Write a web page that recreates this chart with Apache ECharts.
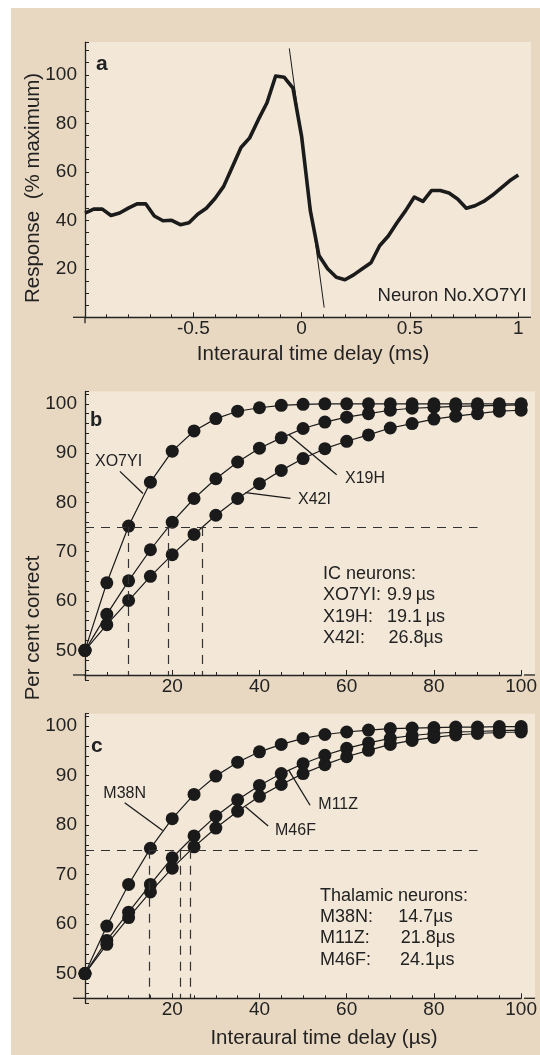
<!DOCTYPE html>
<html><head><meta charset="utf-8">
<script src="https://cdn.jsdelivr.net/npm/echarts@6/dist/echarts.min.js"></script>
<style>html,body{margin:0;padding:0;background:#fff}#c{width:540px;height:1055px}</style>
</head><body><div id="c"></div>
<script>
// ---------- data ----------
const delayMs = [-1.00,-0.96,-0.92,-0.88,-0.84,-0.80,-0.76,-0.72,-0.68,-0.64,-0.60,-0.56,-0.52,-0.48,-0.44,-0.40,-0.36,-0.32,-0.28,-0.24,-0.20,-0.16,-0.12,-0.08,-0.04,0.00,0.04,0.08,0.12,0.16,0.20,0.24,0.28,0.32,0.36,0.40,0.44,0.48,0.52,0.56,0.60,0.64,0.68,0.72,0.76,0.80,0.84,0.88,0.92,0.96,1.00];
const responsePct = [43,44.6,44.6,42,43,45,46.8,46.8,41.8,39.8,40,38.2,39,42.5,45,49,54,62,70,74,81.5,88.5,99.5,99,94.5,74.5,44,25.5,20,16.5,15.5,17.5,20,22.5,29.5,33.5,39,44,49.6,47.8,52.3,52.3,51.3,48.8,45,46,47.8,50.3,53.3,56.3,58.7];
const tangentX = [-0.057, 0.104];
const tangentY = [110.9, 4.0];

const delayUs = [0,5,10,15,20,25,30,35,40,45,50,55,60,65,70,75,80,85,90,95,100];
const pcXO7YI = [50,63.7,75.2,84.1,90.4,94.5,97,98.5,99.2,99.7,99.9,100,100,100,100,100,100,100,100,100,100];
const pcX19H  = [50,57.3,64.1,70.4,76,80.8,84.8,88.2,91,93.1,95,96.3,97.3,98,98.7,99.1,99.3,99.5,99.6,99.7,99.8];
const pcX42I  = [50,55.2,60.1,65,69.4,73.5,77.4,80.8,83.8,86.5,88.9,90.9,92.4,93.7,95.1,96,96.9,97.5,98,98.5,98.7];
const pcM38N  = [50,59.6,68,75.3,81.3,86.2,89.9,92.7,94.8,96.3,97.5,98.3,98.8,99.2,99.5,99.6,99.7,99.8,99.8,99.9,99.9];
const pcM11Z  = [50,56.7,62.4,68,73.4,77.8,81.8,85.1,88,90.4,92.4,94.1,95.5,96.6,97.5,98.1,98.5,98.8,98.9,99.1,99.2];
const pcM46F  = [50,55.9,61.3,66.5,71.3,75.6,79.4,82.8,85.8,88.2,90.4,92.2,93.8,95.1,96.3,97.1,97.7,98.2,98.5,98.7,98.8];

const criterion = 75;
const criterionEnd = 90;
const icThresholds = [9.9, 19.1, 26.8];
const thalThresholds = [14.7, 21.8, 24.1];

const icNames = ['XO7YI:', 'X19H:', 'X42I:'];
const icValues = ['9.9\u2009µs', '19.1\u2009µs', '26.8µs'];
const thNames = ['M38N:', 'M11Z:', 'M46F:'];
const thValues = ['14.7µs', '21.8µs', '24.1µs'];

// pointer (callout) lines in data coordinates
const ptrIC = [[[8.0,86.3],[13.3,81.8]], [[46.7,93.8],[57.7,85.6]], [[36.8,82.0],[47.1,80.8]]];
const ptrTh = [[[9.1,84.5],[17.8,78.9]], [[46.7,91.1],[51.6,84.0]], [[36.8,83.7],[42.0,79.8]]];

// ---------- layout ----------
const FONT = '"Liberation Sans", Arial, Helvetica, sans-serif';
const INK = '#222';
const DOT = '#1a1a1a';
const OUTER = '#e8d8c1';
const INNER = '#f3e8d8';

const gA = {left:85, top:42.1, width:433.3, height:275.2};
const gB = {left:85, top:391.5, width:439, height:288.4};
const gC = {left:85, top:713.7, width:439, height:289.55};
const bcMin = 44, bcMax = 102.5;
const unitB = gB.height/(bcMax-bcMin), unitC = gC.height/(bcMax-bcMin);
const axisYA = gA.top + gA.height;
const axisYB = gB.top + gB.height - unitB;
const axisYC = gC.top + gC.height - unitC;

function xAxisBase(grid, extra){
  return Object.assign({
    type:'value', gridIndex:grid,
    axisLine:{show:true, onZero:false, lineStyle:{color:INK, width:1.3}},
    axisTick:{show:true, inside:true, length:5, lineStyle:{color:INK, width:1}},
    minorTick:{show:true, length:3, lineStyle:{color:INK, width:1}},
    splitLine:{show:false}, minorSplitLine:{show:false},
    axisLabel:{color:INK, fontSize:19, fontFamily:FONT, margin:2, showMinLabel:false}
  }, extra);
}
function yAxisBase(grid, extra, fmt){
  return Object.assign({
    type:'value', gridIndex:grid,
    axisLine:{show:true, onZero:false, lineStyle:{color:INK, width:1.3}},
    axisTick:{show:true, inside:true, length:4, lineStyle:{color:INK, width:1}},
    splitLine:{show:false},
    axisLabel:{color:INK, fontSize:19, fontFamily:FONT, margin:8, formatter:fmt, showMinLabel:true, showMaxLabel:true}
  }, extra);
}

function pairs(xs, ys){ return xs.map((x,i)=>[x, ys[i]]); }
function dotSeries(name, ys, gi){
  return {
    name, type:'line', xAxisIndex:gi, yAxisIndex:gi, data:pairs(delayUs, ys),
    symbol:'circle', symbolSize:13, showSymbol:true,
    itemStyle:{color:DOT}, lineStyle:{color:DOT, width:1.2}, z:3
  };
}
function dashLines(th){
  const d = [[{coord:[0,criterion]},{coord:[criterionEnd,criterion]}]];
  th.forEach(t => d.push([{coord:[t,criterion]},{coord:[t,45]}]));
  return {silent:true, symbol:['none','none'], label:{show:false}, animation:false,
    lineStyle:{color:'#333', width:1.2, type:[9,7]}, emphasis:{disabled:true}, data:d};
}
function ptrLines(p){
  return {silent:true, symbol:['none','none'], label:{show:false}, animation:false,
    lineStyle:{color:DOT, width:1.3, type:'solid'}, emphasis:{disabled:true},
    data:p.map(s=>[{coord:s[0]},{coord:s[1]}])};
}

function txt(x, y, text, o){
  o = o || {};
  return {type:'text', x, y, z:100, rotation:o.rot||0, silent:true,
    style:{text, fill:INK, fontSize:o.size||16, fontFamily:FONT, fontWeight:o.weight||'normal',
      textAlign:o.align||'left', textVerticalAlign:'middle'}};
}
function ln(x1,y1,x2,y2){
  return {type:'line', z:50, silent:true, shape:{x1,y1,x2,y2}, style:{stroke:INK, lineWidth:1.3}};
}
function rect(x,y,w,h,c){
  return {type:'rect', z:-100, silent:true, shape:{x,y,width:w,height:h}, style:{fill:c}};
}

const graphics = [
  rect(11, 8, 529, 1047, OUTER),
  rect(85, gA.top, 531-85, gA.height, INNER),
  rect(85, gB.top, 535-85, axisYB-gB.top, INNER),
  rect(85, gC.top, 535-85, axisYC-gC.top, INNER),
  // axis line extensions
  ln(73, axisYA, 85, axisYA), ln(gA.left+gA.width, axisYA, 531, axisYA), ln(85, axisYA, 85, axisYA+6),
  ln(73, axisYB, 85, axisYB), ln(gB.left+gB.width, axisYB, 535, axisYB),
  ln(73, axisYC, 85, axisYC), ln(gC.left+gC.width, axisYC, 535, axisYC),
  // panel letters
  txt(96, 64, 'a', {size:21, weight:'bold'}),
  txt(90, 420, 'b', {size:20, weight:'bold'}),
  txt(91, 746, 'c', {size:21, weight:'bold'}),
  // panel a text
  txt(526.7, 296, 'Neuron No.XO7YI', {size:18.5, align:'right'}),
  txt(313, 354, 'Interaural time delay (ms)', {size:20.5, align:'center'}),
  txt(33.5, 188, 'Response  (% maximum)', {size:20.5, align:'center', rot:Math.PI/2}),
  txt(33, 628, 'Per cent correct', {size:20.5, align:'center', rot:Math.PI/2}),
  txt(324, 1038.5, 'Interaural time delay (µs)', {size:20.5, align:'center'}),
  // panel b callouts
  txt(95, 461.7, 'XO7YI', {size:16}),
  txt(345, 479, 'X19H', {size:16}),
  txt(298, 500, 'X42I', {size:16}),
  txt(323, 574, 'IC neurons:', {size:18}),
  // panel c callouts
  txt(103.3, 793.3, 'M38N', {size:16}),
  txt(318.3, 805, 'M11Z', {size:16}),
  txt(275, 831, 'M46F', {size:16}),
  txt(320, 895.7, 'Thalamic neurons:', {size:18})
];
const icValX = [387, 387, 388.5];
icNames.forEach((n,i)=>{ graphics.push(txt(323, 595+i*21.6, n, {size:18})); graphics.push(txt(icValX[i], 595+i*21.6, icValues[i], {size:18})); });
const thValX = [398.3, 400.7, 400];
thNames.forEach((n,i)=>{ graphics.push(txt(320, 916.7+i*21.6, n, {size:18})); graphics.push(txt(thValX[i], 916.7+i*21.6, thValues[i], {size:18})); });

const fmtA = v => (v % 20 === 0 && v > 0 && v <= 100) ? String(v) : '';
const fmtBC = v => (v % 10 === 0 && v >= 50 && v <= 100) ? String(v) : '';

const sB1 = dotSeries('XO7YI', pcXO7YI, 1); sB1.markLine = dashLines(icThresholds);
const sB2 = dotSeries('X19H', pcX19H, 1); sB2.markLine = ptrLines(ptrIC);
const sB3 = dotSeries('X42I', pcX42I, 1);
const sC1 = dotSeries('M38N', pcM38N, 2); sC1.markLine = dashLines(thalThresholds);
const sC2 = dotSeries('M11Z', pcM11Z, 2); sC2.markLine = ptrLines(ptrTh);
const sC3 = dotSeries('M46F', pcM46F, 2);

const option = {
  animation:false,
  backgroundColor:'#ffffff',
  grid:[Object.assign({containLabel:false}, gA), Object.assign({containLabel:false}, gB), Object.assign({containLabel:false}, gC)],
  xAxis:[
    xAxisBase(0, {min:-1, max:1, interval:0.5, minorTick:{show:true, splitNumber:5, length:3, lineStyle:{color:INK, width:1}}}),
    xAxisBase(1, {min:0, max:100, interval:20, offset:-unitB, minorTick:{show:true, splitNumber:4, length:3, lineStyle:{color:INK, width:1}}}),
    xAxisBase(2, {min:0, max:100, interval:20, offset:-unitC, minorTick:{show:true, splitNumber:4, length:3, lineStyle:{color:INK, width:1}}})
  ],
  yAxis:[
    yAxisBase(0, {min:0, max:113.5, interval:5}, fmtA),
    yAxisBase(1, {min:bcMin, max:bcMax, interval:2}, fmtBC),
    yAxisBase(2, {min:bcMin, max:bcMax, interval:2}, fmtBC)
  ],
  graphic:{elements:graphics},
  series:[
    {name:'Response', type:'line', xAxisIndex:0, yAxisIndex:0, data:pairs(delayMs, responsePct),
      symbol:'none', showSymbol:false, lineStyle:{color:'#1b1b1b', width:3.6, join:'round'}, z:3},
    {name:'Tangent', type:'line', xAxisIndex:0, yAxisIndex:0, data:pairs(tangentX, tangentY),
      symbol:'none', showSymbol:false, lineStyle:{color:'#1b1b1b', width:1}, z:4},
    sB1, sB2, sB3, sC1, sC2, sC3
  ]
};
const chart = echarts.init(document.getElementById('c'), null, {renderer:'canvas'});
chart.setOption(option);
</script></body></html>
